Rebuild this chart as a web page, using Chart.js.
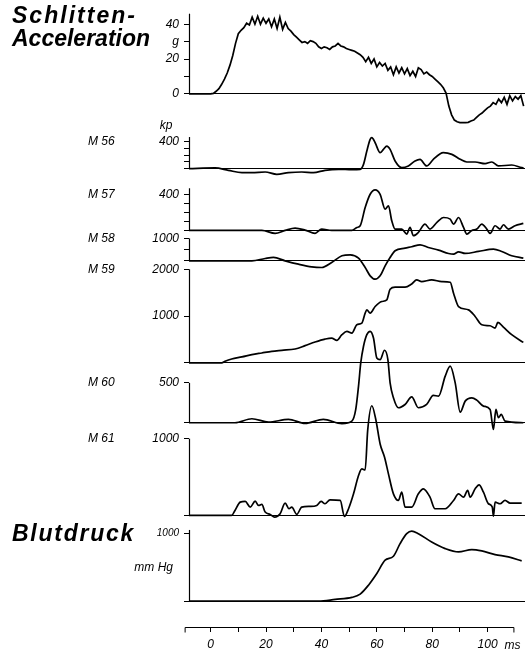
<!DOCTYPE html>
<html>
<head>
<meta charset="utf-8">
<script src="https://cdn.jsdelivr.net/npm/chart.js@4.4.0/dist/chart.umd.min.js"></script>
<style>
  html, body { margin: 0; padding: 0; background: #fff; }
</style>
</head>
<body>
<canvas id="myChart" width="529" height="650"></canvas>
<script>
// time in ms, value in the panel's own unit  [t, v]
const accel = [[-7.8,0],[0,0],[1,0.3],[2,1.5],[3,3],[4,5.5],[5,8.5],[6,12],[7,16.5],[8,22],[9,29],[10,34.5],
  [11,36.5],[12,38],[13,40.5],[14,39.5],[15,44],[16,40],[17,44.5],[18,40],[19,43.5],[20,40.5],[21,43],[22,38.5],
  [23,43],[24,37.5],[25,44],[26,37],[27,41],[28,37.5],[29,36],[30,34],[31,32.5],[32,31],[33,29.5],[34,30],[35,29],
  [36,30.5],[37,30],[38,29],[39,27],[40,26],[41,27],[42,26.5],[43,25.5],[44,27],[45,27.5],[46,29],[47,27.5],[48,27],
  [49,26],[50,25.5],[51,25],[52,24.5],[53,23.5],[54,22.5],[55,21],[56,18.5],[57,21],[58,17.5],[59,20],[60,15.5],
  [61,18],[62,16],[63,17.5],[64,13.5],[65,15.5],[66,11],[67,15.5],[68,12],[69,15],[70,11.5],[71,14.5],[72,10.5],
  [73,13],[74,10],[75,15],[76,14],[77,11.5],[78,12.5],[79,11],[80,10],[81,8.5],[82,7],[83,5.5],[84,3.5],[85,0.5],
  [86,-7],[87,-12],[88,-15],[89,-16],[90,-16.5],[91,-16.5],[92,-16.5],[93,-16.3],[94,-15.5],[95,-15],[96,-13.5],
  [97,-12],[98,-11],[99,-9.5],[100,-8],[101,-7],[102,-5],[103,-6],[104,-3],[105,-5],[106,-2],[107,-6],[108,-1],
  [109,-4],[110,-1.5],[111,-3],[112,-1],[113,-7]];

const m56 = [[-7.8,0],[1.6,10],[6.4,-25],[11.3,-60],[14.9,-60],[19.7,-50],[23.9,-84],[28.1,-60],[32.9,-50],
  [37.1,-60],[41.3,-25],[46.2,-10],[51,-15],[54,-10],[55.2,64],[56.4,262],[57.6,435],[58.2,460],[59.4,385],
  [61.2,237],[62.4,287],[63.6,336],[64.8,287],[66.6,114],[69,15],[71.4,40],[73.8,114],[75.6,138],[78,40],
  [80.4,138],[82.9,222],[84,237],[87.1,212],[90.1,138],[92.5,99],[95.5,99],[99.1,74],[101.5,99],[103.9,40],
  [108.7,54],[112.3,15],[113,10]];

const m57 = [[-7.8,0],[18.5,0],[23.3,-33],[26.9,0],[30.5,26],[34.1,4],[37.7,-33],[40.1,15],[43.7,0],[51,0],
  [52.8,33],[54,52],[55.8,255],[57.6,403],[59.4,451],[61.2,403],[63,237],[64.2,274],[65.4,107],[66.6,15],[69,15],
  [70.8,-41],[72,33],[73.2,-59],[75,-22],[77.4,70],[79.2,15],[81.7,89],[84.1,144],[86.5,126],[87.7,70],[89.5,144],
  [91.3,33],[92.5,-41],[94.3,0],[96.1,15],[97.9,70],[99.7,15],[100.9,-33],[102.7,52],[104.5,15],[105.7,63],
  [107.5,15],[109.9,52],[112.9,78]];

const m58 = [[-7.8,0],[14.9,0],[19.7,104],[22.7,149],[26.9,0],[31.7,-149],[36.5,-268],[40.1,-298],[43.7,-75],
  [47.4,224],[50.4,268],[53.4,119],[55.8,-298],[57.6,-670],[59.4,-820],[61.2,-670],[63,-224],[64.8,149],
  [66.6,447],[70.2,566],[72.6,626],[75.6,715],[78.6,596],[82.3,477],[85.9,328],[87.7,298],[89.5,402],[91.9,328],
  [96.7,417],[102.1,521],[105.1,417],[108.7,224],[112.9,119]];

const m59 = [[-7.8,0],[4,0],[5.2,35],[7.6,85],[11.3,128],[14.9,177],[18.5,213],[22.1,248],[25.7,270],[30.5,298],
  [34.1,369],[37.7,447],[41.3,510],[43.7,532],[45.6,482],[47.4,603],[49.2,674],[51,638],[52.8,815],[54.6,851],
  [55.8,1064],[56.4,1134],[57.6,1064],[59.4,1205],[61.8,1312],[63.6,1347],[64.8,1574],[66.6,1617],[70.2,1617],
  [72.6,1687],[74.4,1773],[76.2,1737],[79.8,1773],[83.5,1737],[86.5,1723],[87.7,1489],[89.5,1205],[93.1,1134],
  [95.5,993],[97.9,815],[100.9,794],[102.7,745],[103.7,865],[105.7,766],[108.7,603],[112.9,440]];

const m60 = [[-7.8,0],[8.8,0],[14.9,50],[20.9,8],[28.1,42],[34.1,-8],[40.7,42],[47.4,-12],[51,20],[52.4,167],
  [53.4,459],[54.2,750],[55.2,960],[56.4,1105],[57.6,1147],[58.8,1063],[60,813],[61.2,792],[62.8,909],[64,792],
  [64.8,500],[66,313],[67.8,188],[70.2,229],[72.6,325],[75,188],[78,229],[80.4,342],[82.3,334],[84.7,584],
  [86.5,709],[88.3,500],[90.1,133],[91.9,271],[94.3,313],[96.1,284],[98.5,209],[100.9,167],[102.1,-83],[103,167],
  [103.9,63],[104.9,104],[106.3,20],[112.9,0]];

const m61 = [[-7.8,0],[7.6,0],[8.8,65],[10.7,173],[12.5,182],[14.3,108],[16.1,186],[17.3,130],[18.5,143],
  [19.7,43],[21.5,13],[23.1,-22],[25.1,22],[26.9,160],[28.3,87],[29.3,108],[31.1,13],[32.9,108],[35.9,117],
  [38.3,130],[39.9,182],[41.3,152],[43.1,203],[46.8,195],[48.3,-13],[49.8,87],[51.6,281],[53.4,520],[54.6,606],
  [55.8,593],[56.7,1104],[58.2,1429],[59.6,1256],[61.2,931],[62.8,758],[64.2,541],[66,281],[67.8,195],[69,303],
  [70.2,108],[72.6,108],[75,281],[76.8,346],[79.2,238],[81,87],[84.7,87],[87.7,195],[89.5,281],[91.3,238],
  [92.8,325],[93.7,238],[95.5,346],[96.9,398],[98.5,303],[100.3,152],[101.7,108],[102.1,-10],[102.7,173],
  [104.5,152],[106.3,195],[108.1,160],[112.3,160]];

const blood = [[-7.8,0],[39,0],[45,25],[51,54],[54,103],[57,235],[60,407],[63,603],[66,662],[68.4,848],
  [70.8,995],[72.6,1034],[75,995],[79.8,872],[84.7,774],[89.5,725],[94.3,760],[97.9,740],[102.7,686],
  [107.5,652],[112.3,593]];

// tick values and labels
const xTicks = [0, 10, 20, 30, 40, 50, 60, 70, 80, 90, 100];
const accTicks = [0, 10, 20, 30, 40];
const accLabels = { 0: '0', 20: '20', 30: 'g', 40: '40' };
const kpTicks = [0, 100, 200, 300, 400];
const m58Ticks = [0, 500, 1000];
const m59Ticks = [0, 1000, 2000];
const m60Ticks = [0, 500];
const k1Ticks = [0, 1000];

// panel layout, top to bottom (weight = band height in px)
const panels = [
  { id: 'yAcc', data: accel, weight: 117, min: -20, max: 46.86, ticks: accTicks, labels: accLabels, axisTop: 46, smooth: false },
  { id: 'y56', data: m56, weight: 53, min: -192.6, max: 592.6, ticks: kpTicks, labels: { 400: '400' }, axisTop: 470, name: 'M 56', nameAt: 400 },
  { id: 'y57', data: m57, weight: 54, min: -55.6, max: 544.4, ticks: kpTicks, labels: { 400: '400' }, axisTop: 470, name: 'M 57', nameAt: 400 },
  { id: 'y58', data: m58, weight: 31, min: -244, max: 1133, ticks: m58Ticks, labels: { 1000: '1000' }, axisTop: 1000, name: 'M 58', nameAt: 1000 },
  { id: 'y59', data: m59, weight: 103, min: -127.7, max: 2064, ticks: m59Ticks, labels: { 1000: '1000', 2000: '2000' }, axisTop: 2000, name: 'M 59', nameAt: 2000 },
  { id: 'y60', data: m60, weight: 60, min: -75, max: 675, ticks: m60Ticks, labels: { 500: '500' }, axisTop: 500, name: 'M 60', nameAt: 500 },
  { id: 'y61', data: m61, weight: 94, min: -90.9, max: 1129.9, ticks: k1Ticks, labels: { 1000: '1000' }, axisTop: 1000, name: 'M 61', nameAt: 1000 },
  { id: 'yBlood', data: blood, weight: 105, min: -382.4, max: 1161.8, ticks: k1Ticks, labels: { 1000: '1000' }, axisTop: 1050, small: true }
];

const FONT = "'Liberation Sans', Arial, sans-serif";
Chart.defaults.font.family = FONT;
Chart.defaults.color = '#000';

const scales = {
  x: {
    type: 'linear',
    min: -7.8,
    max: 113.5,
    afterFit: s => { s.height = 23; },
    afterBuildTicks: s => { s.ticks = xTicks.map(v => ({ value: v })); },
    border: { display: false },
    grid: { drawOnChartArea: false, tickLength: 5, tickColor: '#000', lineWidth: 1 },
    ticks: {
      autoSkip: false, maxRotation: 0, padding: 5,
      font: { size: 12, style: 'italic' },
      callback: v => (v % 20 === 0 ? String(v) : '')
    }
  }
};

// left boxes of one stack are laid out from the last defined one, so add bottom first
panels.slice().reverse().forEach(p => {
  scales[p.id] = {
    type: 'linear',
    position: 'left',
    stack: 'traces',
    stackWeight: p.weight,
    min: p.min,
    max: p.max,
    afterFit: s => { s.width = 189; },
    afterBuildTicks: s => { s.ticks = p.ticks.map(v => ({ value: v })); },
    border: { display: false },
    grid: {
      color: c => (c.tick && c.tick.value === 0 ? '#000' : 'rgba(0,0,0,0)'),
      tickColor: '#000',
      tickLength: 5,
      lineWidth: 1
    },
    ticks: {
      autoSkip: false, padding: 5,
      font: { size: p.small ? 10 : 12, style: 'italic' },
      callback: v => (p.labels[v] !== undefined ? p.labels[v] : '')
    }
  };
});

const datasets = panels.map(p => ({
  data: p.data.map(d => ({ x: d[0], y: d[1] })),
  yAxisID: p.id,
  borderColor: '#000',
  borderWidth: 1.7,
  pointRadius: 0,
  fill: false,
  clip: false,
  tension: p.smooth === false ? 0 : 0.35,
  cubicInterpolationMode: p.smooth === false ? 'default' : 'monotone'
}));

// draw a title stretched to the width it has in the print
function spacedText(ctx, text, x, y, width) {
  ctx.letterSpacing = '0px';
  const w = ctx.measureText(text).width;
  const gap = Math.max(0, (width - w) / text.length);
  ctx.letterSpacing = gap.toFixed(2) + 'px';
  ctx.fillText(text, x, y);
  ctx.letterSpacing = '0px';
}

const decor = {
  id: 'decor',
  beforeDraw: (chart) => {
    const ctx = chart.ctx;
    ctx.save();
    ctx.fillStyle = '#fff';
    ctx.fillRect(0, 0, chart.width, chart.height);
    ctx.restore();
  },
  afterDraw: (chart) => {
    const ctx = chart.ctx;
    const left = chart.chartArea.left;
    ctx.save();
    ctx.strokeStyle = '#000';
    ctx.fillStyle = '#000';
    ctx.lineWidth = 1.2;

    // panel axes and names
    panels.forEach(p => {
      const s = chart.scales[p.id];
      ctx.beginPath();
      ctx.moveTo(left + 0.5, s.getPixelForValue(0));
      ctx.lineTo(left + 0.5, s.getPixelForValue(p.axisTop));
      ctx.stroke();
      if (p.name) {
        ctx.font = 'italic 12px ' + FONT;
        ctx.textAlign = 'left';
        ctx.textBaseline = 'middle';
        ctx.fillText(p.name, 88, s.getPixelForValue(p.nameAt));
      }
    });

    // kp unit
    const s56 = chart.scales.y56;
    ctx.font = 'italic 12px ' + FONT;
    ctx.textAlign = 'center';
    ctx.textBaseline = 'middle';
    ctx.fillText('kp', 166, s56.getPixelForValue(400) - 16);

    // time axis
    const xs = chart.scales.x;
    const ya = xs.top + 0.5;
    ctx.lineWidth = 1;
    ctx.beginPath();
    ctx.moveTo(xs.getPixelForValue(-9.2), ya);
    ctx.lineTo(xs.getPixelForValue(109.5), ya);
    ctx.moveTo(xs.getPixelForValue(-9.2), ya);
    ctx.lineTo(xs.getPixelForValue(-9.2), ya + 5);
    ctx.moveTo(xs.getPixelForValue(109.5), ya);
    ctx.lineTo(xs.getPixelForValue(109.5), ya + 5);
    ctx.stroke();
    ctx.font = 'italic 12px ' + FONT;
    ctx.textAlign = 'left';
    ctx.fillText('ms', xs.getPixelForValue(100) + 17, ya + 18);

    // titles
    ctx.font = 'italic bold 23px ' + FONT;
    ctx.textAlign = 'left';
    ctx.textBaseline = 'alphabetic';
    spacedText(ctx, 'Schlitten-', 12, 23, 125);
    spacedText(ctx, 'Acceleration', 12, 46, 136);
    const sb = chart.scales.yBlood;
    spacedText(ctx, 'Blutdruck', 12, sb.getPixelForValue(1000) + 8, 123);
    ctx.font = 'italic 12px ' + FONT;
    ctx.textAlign = 'right';
    ctx.textBaseline = 'middle';
    ctx.fillText('mm Hg', 173, sb.getPixelForValue(500));
    ctx.restore();
  }
};

const config = {
  type: 'line',
  data: { datasets: datasets },
  options: {
    responsive: false,
    animation: false,
    layout: { padding: { left: 0, right: 4, top: 10, bottom: 0 } },
    plugins: { legend: { display: false }, tooltip: { enabled: false } },
    scales: scales
  },
  plugins: [decor]
};

const myChart = new Chart(document.getElementById('myChart'), config);
</script>
</body>
</html>
